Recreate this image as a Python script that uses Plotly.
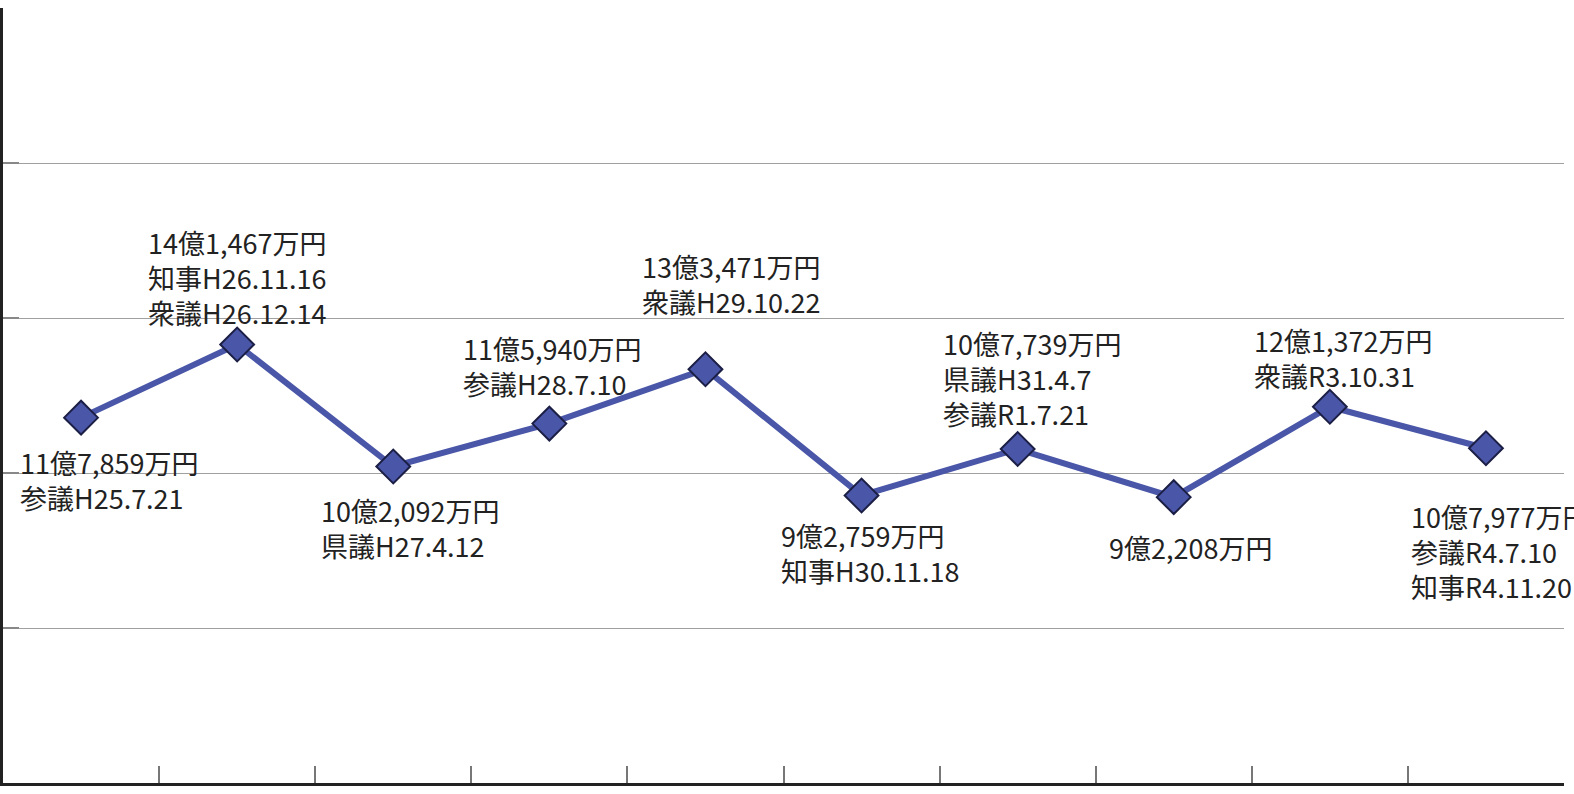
import plotly.graph_objects as go

# Data (values in 億円)
categories = ["H25", "H26", "H27", "H28", "H29", "H30", "H31R1", "R2", "R3", "R4"]
values = [11.7859, 14.1467, 10.2092, 11.5940, 13.3471, 9.2759, 10.7739, 9.2208, 12.1372, 10.7977]
labels = [
    "11億7,859万円<br>参議H25.7.21",
    "14億1,467万円<br>知事H26.11.16<br>衆議H26.12.14",
    "10億2,092万円<br>県議H27.4.12",
    "11億5,940万円<br>参議H28.7.10",
    "13億3,471万円<br>衆議H29.10.22",
    "9億2,759万円<br>知事H30.11.18",
    "10億7,739万円<br>県議H31.4.7<br>参議R1.7.21",
    "9億2,208万円",
    "12億1,372万円<br>衆議R3.10.31",
    "10億7,977万円<br>参議R4.7.10<br>知事R4.11.20",
]
# label offsets in pixels: (dx to text left, dy to first-line centre) relative to point
label_dx = [-61, -89, -72, -86, -63, -81, -75, -65, -76, -75]
label_dy = [43, -104, 42, -77, -105, 38, -107, 48, -68, 66]

FONT = "Liberation Sans Narrow, Arial Narrow, Noto Sans CJK JP, sans-serif"
FS = 27

xs = list(range(len(categories)))

fig = go.Figure()
fig.add_trace(go.Scatter(
    x=xs, y=values, mode="lines+markers",
    line=dict(color="#4a56a8", width=6),
    marker=dict(symbol="diamond", size=26, color="#4a56a8",
                line=dict(color="#1c1f45", width=2)),
    hoverinfo="skip",
))

for x, v, t, dx, dy in zip(xs, values, labels, label_dx, label_dy):
    fig.add_annotation(
        x=x, y=v, xref="x", yref="y", text=t, showarrow=False,
        xanchor="left", yanchor="top", align="left",
        xshift=dx - 2, yshift=-(dy - 0.65 * FS - 2),
        font=dict(family=FONT, size=FS, color="#222222"),
    )

fig.update_layout(
    width=1574, height=794,
    margin=dict(l=3, r=10, t=8, b=11),
    paper_bgcolor="white", plot_bgcolor="white",
    showlegend=False,
    font=dict(family=FONT),
)
fig.update_xaxes(
    range=[-0.5, len(categories) - 0.5],
    tickvals=[i + 0.5 for i in range(len(categories))],
    showticklabels=False, ticks="inside", ticklen=17, tickcolor="#777777", tickwidth=1.5,
    showgrid=False, zeroline=False,
    showline=True, linecolor="#222222", linewidth=3,
)
fig.update_yaxes(
    range=[0, 25], dtick=5, tick0=0,
    showticklabels=False, ticks="inside", ticklen=16, tickcolor="#888888", tickwidth=1.5,
    showgrid=True, gridcolor="#a0a0a0", gridwidth=1.2, zeroline=False,
    showline=True, linecolor="#222222", linewidth=3,
)

fig.write_html("out.html", config={"displayModeBar": False},
               post_script="document.body.style.margin='0';")
